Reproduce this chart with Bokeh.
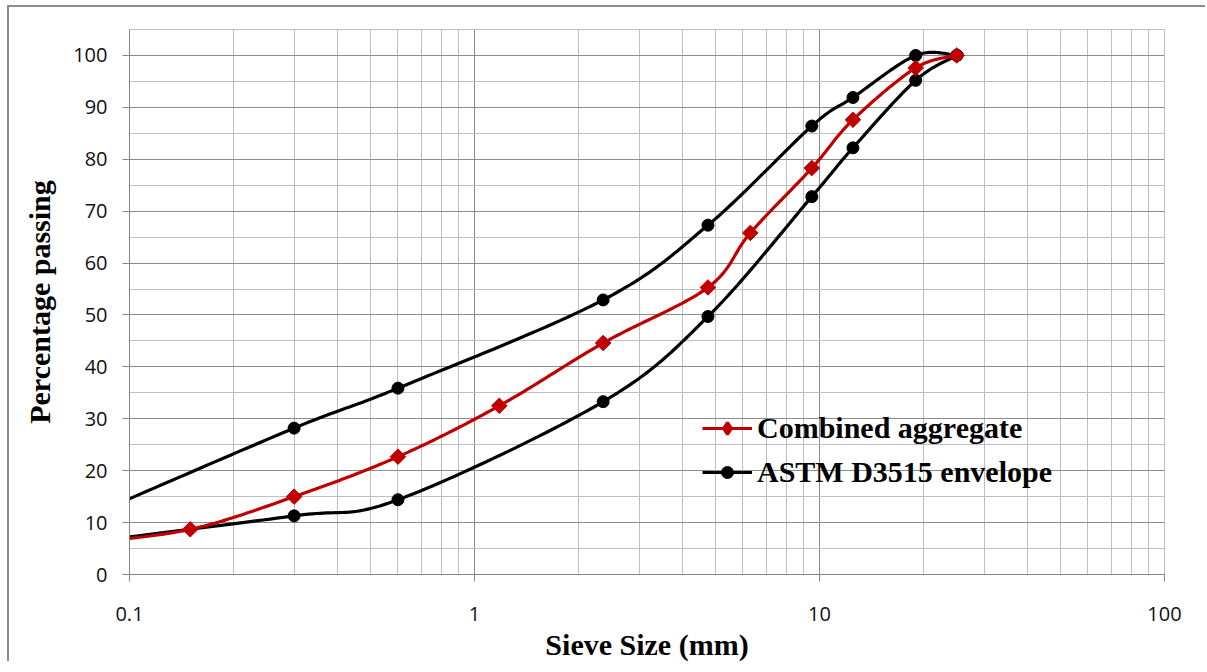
import numpy as np
from bokeh.plotting import figure
from bokeh.models import (FixedTicker, SingleIntervalTicker, CustomJSTickFormatter,
                          Legend, LegendItem, Range1d)
from bokeh.embed import file_html
from bokeh.resources import INLINE

# ---- data ----
sieve_combined = [0.075, 0.15, 0.3, 0.6, 1.18, 2.36, 4.75, 6.3, 9.5, 12.5, 19, 25]
combined = [6.1, 8.7, 15.0, 22.7, 32.5, 44.6, 55.3, 65.8, 78.3, 87.6, 97.6, 100]

sieve_envelope = [0.075, 0.3, 0.6, 2.36, 4.75, 9.5, 12.5, 19, 25]
envelope_lower = [6.2, 11.3, 14.4, 33.3, 49.7, 72.8, 82.2, 95.2, 100]
envelope_upper = [11.0, 28.2, 35.9, 52.9, 67.3, 86.4, 91.9, 100, 100]

x_ticks = [0.1, 1, 10, 100]
x_minor = [m * d for d in (0.1, 1, 10) for m in range(2, 10)]
y_max = 105


def smooth(xs, ys, n=30):
    """Excel-like smoothed line (Catmull-Rom Bezier) in log-x space."""
    P = np.column_stack([np.log10(np.asarray(xs, float)), np.asarray(ys, float)])
    pts = []
    k = len(P)
    for i in range(k - 1):
        p0 = P[i - 1] if i > 0 else P[i]
        p1, p2 = P[i], P[i + 1]
        p3 = P[i + 2] if i + 2 < k else P[i + 1]
        c1 = p1 + (p2 - p0) / 6.0
        c2 = p2 - (p3 - p1) / 6.0
        t = np.linspace(0, 1, n, endpoint=(i == k - 2))[:, None]
        seg = ((1 - t) ** 3) * p1 + 3 * ((1 - t) ** 2) * t * c1 + 3 * (1 - t) * t ** 2 * c2 + t ** 3 * p2
        pts.append(seg)
    pts = np.vstack(pts)
    return 10 ** pts[:, 0], pts[:, 1]


# envelope drawn as one series: lower limits then upper limits back
env_x = list(sieve_envelope) + list(reversed(sieve_envelope))
env_y = list(envelope_lower) + list(reversed(envelope_upper))

p = figure(width=1198, height=656, x_axis_type="log",
           x_range=Range1d(0.1, 100), y_range=Range1d(0, y_max),
           output_backend="svg", toolbar_location=None,
           min_border_left=120, min_border_right=43,
           min_border_top=22, min_border_bottom=87)
p.styles = {"border-left": "2px solid #8c8c8c", "border-top": "2px solid #8c8c8c",
            "margin-left": "7px", "margin-top": "5px"}

p.background_fill_color = "white"
p.border_fill_color = "white"
p.outline_line_color = "#bfbfbf"

# axes
p.xaxis.ticker = FixedTicker(ticks=x_ticks, minor_ticks=x_minor)
p.xaxis.formatter = CustomJSTickFormatter(code="return String(tick);")
p.yaxis.ticker = SingleIntervalTicker(interval=10, num_minor_ticks=2)

for ax in (p.xaxis[0], p.yaxis[0]):
    ax.axis_line_color = "#868686"
    ax.major_tick_line_color = "#868686"
    ax.minor_tick_line_color = None
    ax.major_tick_in = 0
    ax.major_tick_out = 7
    ax.major_label_text_font = "Open Sans"
    ax.major_label_text_font_size = "20px"
    ax.major_label_text_color = "#111111"
    ax.axis_label_text_font = "Liberation Serif"
    ax.axis_label_text_font_style = "bold"
    ax.axis_label_text_font_size = "30px"
    ax.axis_label_text_color = "black"

p.xaxis.axis_label = "Sieve Size (mm)"
p.yaxis.axis_label = "Percentage passing"
p.xaxis.major_label_standoff = 25
p.xaxis.axis_label_standoff = 4
p.yaxis.major_label_standoff = 15
p.yaxis.axis_label_standoff = 14

# grids
for g in (p.xgrid[0], p.ygrid[0]):
    g.grid_line_color = "#8c8c8c"
    g.grid_line_width = 1
    g.minor_grid_line_color = "#bfbfbf"
    g.minor_grid_line_width = 1

# series
ex, ey = smooth(env_x, env_y)
cx, cy = smooth(sieve_combined, combined)

env_line = p.line(ex, ey, line_color="black", line_width=3.2)
env_pts = p.scatter(env_x, env_y, marker="circle", size=12,
                    fill_color="black", line_color="black")
comb_line = p.line(cx, cy, line_color="#C00000", line_width=3.2)
comb_pts = p.scatter(sieve_combined, combined, marker="square", angle=np.pi / 4,
                     size=11, fill_color="#C00000", line_color="#C00000")
# legend-only diamond swatch (zero size on the plot, hidden under the real markers)
comb_key = p.scatter(sieve_combined, combined, marker="diamond", size=0,
                     fill_color="#C00000", line_color="#C00000", line_width=3)

legend = Legend(items=[LegendItem(label="Combined aggregate", renderers=[comb_line, comb_key]),
                       LegendItem(label="ASTM D3515 envelope", renderers=[env_line, env_pts])],
                location=(573, 82), glyph_width=50, glyph_height=30, spacing=4,
                padding=0, margin=0, border_line_color=None, background_fill_alpha=0,
                label_text_font="Liberation Serif", label_text_font_style="bold",
                label_text_font_size="30px", label_text_color="black",
                label_standoff=5, label_height=40)
p.add_layout(legend)

open("out.html", "w").write(file_html(p, INLINE))
